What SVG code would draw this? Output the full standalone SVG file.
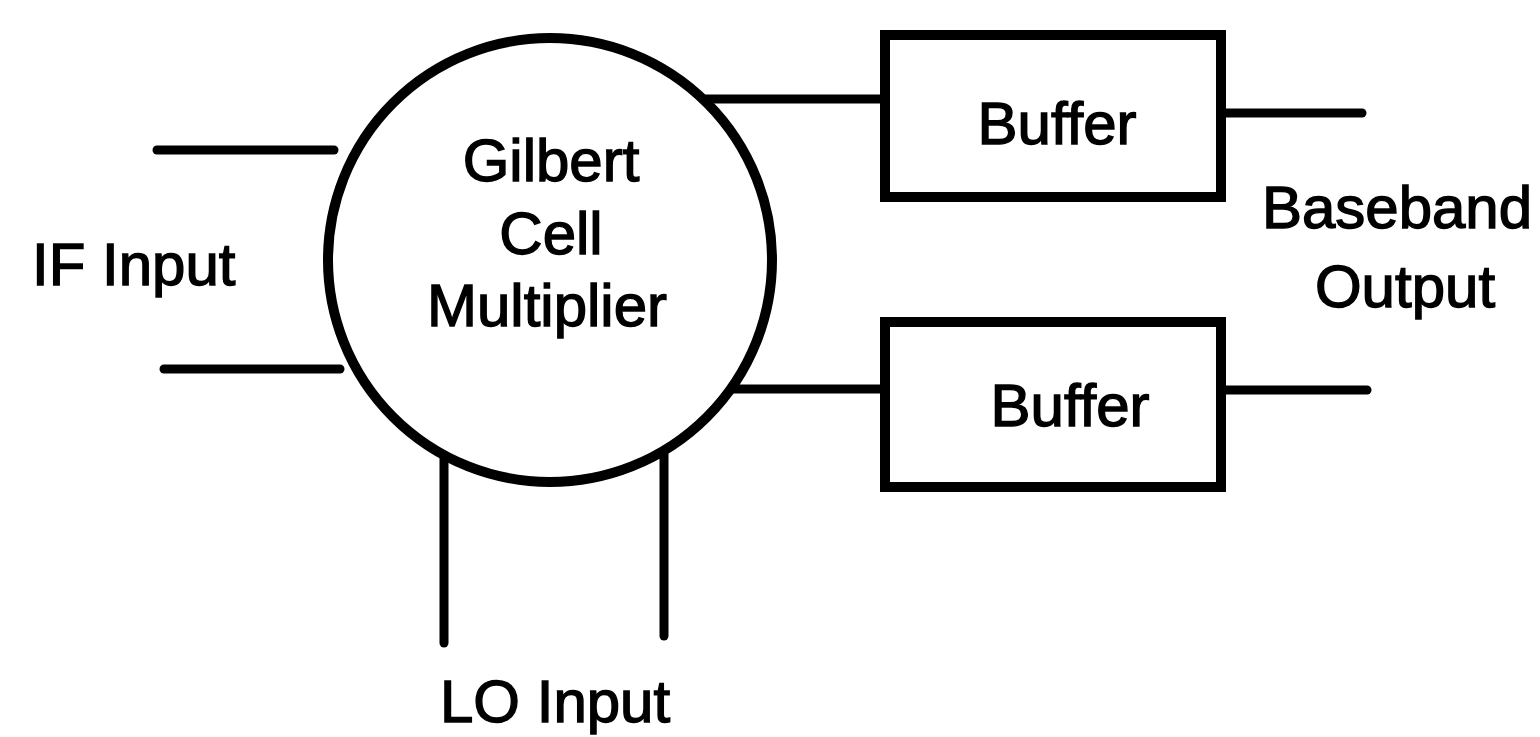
<svg xmlns="http://www.w3.org/2000/svg" width="1540" height="737" viewBox="0 0 1540 737">
  <style>
    .shape { fill: #fff; stroke: #000; stroke-width: 10; }
    .wire { stroke: #000; stroke-width: 9; fill: none; stroke-linecap: round; }
    .label { font-family: "Liberation Sans", Arial, sans-serif; font-size: 60px; fill: #000; stroke: #000; stroke-width: 1.4; }
    .mid { text-anchor: middle; }
  </style>
  <rect width="1540" height="737" fill="#fff"/>

  <!-- wires -->
  <g id="connectors">
    <line class="wire" x1="157" y1="150" x2="334" y2="150"/>
    <line class="wire" x1="164" y1="369" x2="340" y2="369"/>
    <line class="wire" x1="444" y1="455" x2="444" y2="643"/>
    <line class="wire" x1="664" y1="451" x2="664" y2="636"/>
    <line class="wire" x1="706" y1="99" x2="885" y2="99"/>
    <line class="wire" x1="733" y1="389" x2="885" y2="389"/>
    <line class="wire" x1="1221" y1="113" x2="1362" y2="113"/>
    <line class="wire" x1="1221" y1="390" x2="1367" y2="390"/>
  </g>

  <g id="mixer">
    <circle class="shape" cx="550" cy="260" r="222"/>
    <text class="label mid" x="551" y="181">Gilbert</text>
    <text class="label mid" x="551" y="254">Cell</text>
    <text class="label mid" x="547" y="326">Multiplier</text>
  </g>

  <g id="buffer-top">
    <rect class="shape" x="885" y="35" width="336" height="162"/>
    <text class="label mid" x="1057" y="144">Buffer</text>
  </g>

  <g id="buffer-bottom">
    <rect class="shape" x="885" y="322" width="336" height="165"/>
    <text class="label mid" x="1070" y="426">Buffer</text>
  </g>

  <g id="if-input">
    <text class="label" x="32" y="285">IF Input</text>
  </g>

  <g id="lo-input">
    <text class="label" x="440" y="722">LO Input</text>
  </g>

  <g id="baseband-output">
    <text class="label mid" x="1397" y="228">Baseband</text>
    <text class="label mid" x="1405" y="307">Output</text>
  </g>
</svg>
